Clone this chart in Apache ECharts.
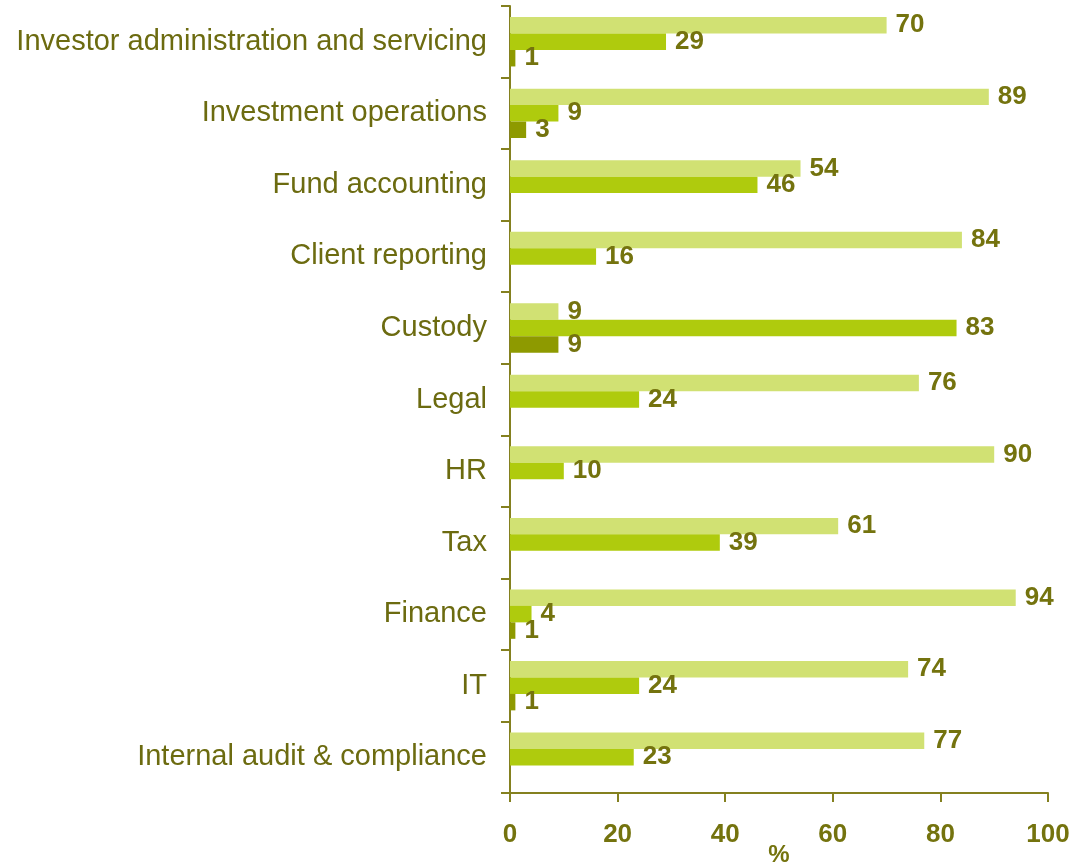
<!DOCTYPE html>
<html>
<head>
<meta charset="utf-8">
<script src="https://cdn.jsdelivr.net/npm/echarts@6/dist/echarts.min.js"></script>
<style>html,body{margin:0;padding:0;background:#fff}#c{width:1075px;height:866px}</style>
</head>
<body>
<div id="c"></div>
<script>
const categories = ["Investor administration and servicing","Investment operations","Fund accounting","Client reporting","Custody","Legal","HR","Tax","Finance","IT","Internal audit & compliance"];
const seriesA = [70, 89, 54, 84, 9, 76, 90, 61, 94, 74, 77];
const seriesB = [29, 9, 46, 16, 83, 24, 10, 39, 4, 24, 23];
const seriesC = [1, 3, null, null, 9, null, null, null, 1, 1, null];
const xTicks = [0, 20, 40, 60, 80, 100];

const olive = '#74730E';
const axisCol = '#84801F';
const font = 'Liberation Sans, Arial, sans-serif';
const lbl = {show: true, position: 'right', distance: 9, color: olive, fontFamily: font, fontWeight: 'bold', fontSize: 26};

const chart = echarts.init(document.getElementById('c'), null, {renderer: 'canvas'});
chart.setOption({
  animation: false,
  grid: {left: 510, right: 27, top: 6, bottom: 73, containLabel: false, outerBoundsMode: 'none'},
  xAxis: {
    type: 'value', min: xTicks[0], max: xTicks[xTicks.length-1], interval: 20,
    name: '%', nameLocation: 'middle', nameGap: 50, nameMoveOverlap: false,
    nameTextStyle: {color: olive, fontFamily: font, fontWeight: 'bold', fontSize: 24, verticalAlign: 'top'},
    axisLine: {show: true, lineStyle: {color: axisCol, width: 2}},
    axisTick: {show: true, length: 9, lineStyle: {color: axisCol, width: 2}},
    axisLabel: {color: olive, fontFamily: font, fontWeight: 'bold', fontSize: 26, margin: 29},
    splitLine: {show: false}
  },
  yAxis: {
    type: 'category', data: categories, inverse: true,
    axisLine: {show: true, lineStyle: {color: axisCol, width: 2}},
    axisTick: {show: true, length: 9, lineStyle: {color: axisCol, width: 2}},
    axisLabel: {color: '#6C6B10', fontFamily: font, fontSize: 29, margin: 23},
    splitLine: {show: false}
  },
  series: [
    {type: 'bar', data: seriesA, barGap: '0%', barCategoryGap: '31%', itemStyle: {color: '#D1E173'}, label: lbl},
    {type: 'bar', data: seriesB, barGap: '0%', barCategoryGap: '31%', itemStyle: {color: '#AFCB0D'}, label: lbl},
    {type: 'bar', data: seriesC, barGap: '0%', barCategoryGap: '31%', itemStyle: {color: '#8E9A00'}, label: lbl}
  ]
});
</script>
</body>
</html>
